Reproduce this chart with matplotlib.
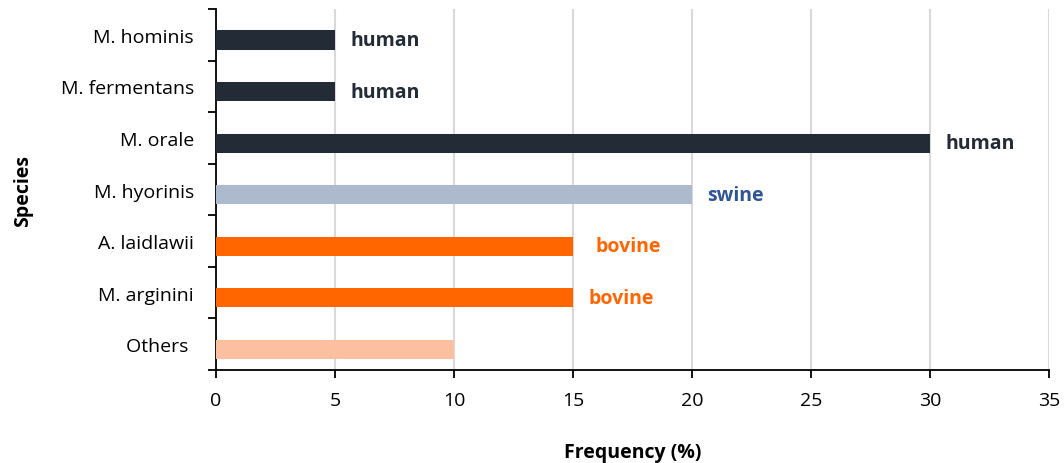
import numpy as np
import matplotlib
matplotlib.use("Agg")
import matplotlib.pyplot as plt

plt.rcParams['font.family'] = ['Open Sans', 'DejaVu Sans']

# data, top to bottom
species = ["M. hominis", "M. fermentans", "M. orale", "M. hyorinis",
           "A. laidlawii", "M. arginini", "Others "]
freq = [5, 5, 30, 20, 15, 15, 10]
host = ["human", "human", "human", "swine", "bovine", "bovine", ""]
bar_colors = ["#232b36", "#232b36", "#232b36", "#adb9cc",
              "#ff6600", "#ff6600", "#fcbf9f"]
text_colors = ["#232b36", "#232b36", "#232b36", "#2f5597",
               "#ff6600", "#ff6600", "#ff6600"]
label_gap = [0.65, 0.65, 0.65, 0.65, 0.95, 0.65, 0.65]

fig = plt.figure(figsize=(10.64, 4.64), dpi=100)
ax = fig.add_axes([0.203, 0.2004, 0.783, 0.778])

y = np.arange(len(species))
shift = 0.1  # bars sit a little below the band centre
ax.barh(y + shift, freq, height=0.37, color=bar_colors, zorder=3)

for yi, v, h, c, g in zip(y, freq, host, text_colors, label_gap):
    if h:
        ax.text(v + g, yi + shift, h, color=c, fontsize=14, fontweight='bold',
                va='center', ha='left', zorder=4)

ax.set_ylim(len(species) - 0.5, -0.5)
ax.set_xlim(0, 35)
ax.set_xticks(np.arange(0, 36, 5))
ax.set_yticks(y)
ax.set_yticklabels(species)
ax.set_yticks(np.arange(-0.5, len(species), 1), minor=True)
ax.tick_params(axis='y', which='major', length=0, pad=16, labelsize=14)
ax.tick_params(axis='y', which='minor', length=6, width=1.3, direction='out')
ax.tick_params(axis='x', length=6, width=1.3, pad=9, labelsize=14)

ax.grid(axis='x', color='#d9d9d9', linewidth=1.5, zorder=0)
ax.set_axisbelow(True)
for s in ['top', 'right']:
    ax.spines[s].set_visible(False)
for s in ['left', 'bottom']:
    ax.spines[s].set_linewidth(1.3)
    ax.spines[s].set_color('black')

ax.set_xlabel("Frequency (%)", fontsize=14, fontweight='bold', labelpad=24)
ax.set_ylabel("Species", fontsize=14, fontweight='bold')
ax.yaxis.set_label_coords(-0.22, 0.5)

fig.savefig("out.png", dpi=100)
